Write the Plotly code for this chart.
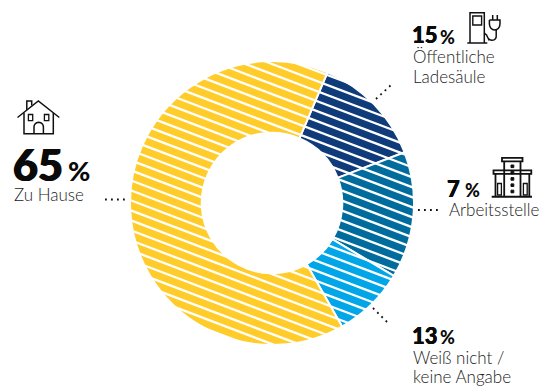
import math
import plotly.graph_objects as go

W, H = 545, 392

# Ring segments, clockwise from the start angle
categories = ["Öffentliche Ladesäule", "Arbeitsstelle", "Weiß nicht / keine Angabe", "Zu Hause"]
shares = [12.8, 14.4, 8.2, 64.6]
colors = ["#0F3B7A", "#006C9E", "#00A6E8", "#FFCC29"]

# Printed callout numbers
big_numbers = ["65", "15", "7", "13"]

CX, CY, R = 272, 203, 142


def px(x):
    return x / W


def py(y):
    return 1 - y / H


def path(points, close=False):
    d = "M " + " L ".join(f"{px(x):.5f},{py(y):.5f}" for x, y in points)
    return d + (" Z" if close else "")


fig = go.Figure(
    go.Pie(
        labels=categories,
        values=shares,
        sort=False,
        direction="clockwise",
        rotation=23,
        hole=0.495,
        textinfo="none",
        hoverinfo="skip",
        showlegend=False,
        marker=dict(colors=colors, line=dict(color="white", width=2)),
        domain=dict(x=[px(CX - R), px(CX + R)], y=[py(CY + R), py(CY - R)]),
    )
)

shapes = []

# White hatching over the ring, cut to the outer circle
SLOPE = 0.38
PERIOD = 10.0
PHASE = 1.0
STROKE = 2.3
n = int(2 * R * 1.1 / PERIOD) + 2
for k in range(-n, n + 1):
    c = PHASE + k * PERIOD  # vertical offset at the centre column
    a = 1 + SLOPE**2
    b = 2 * SLOPE * c
    disc = b * b - 4 * a * (c * c - (R + 2) ** 2)
    if disc <= 0:
        continue
    x1 = (-b - math.sqrt(disc)) / (2 * a)
    x2 = (-b + math.sqrt(disc)) / (2 * a)
    shapes.append(dict(
        type="path", xref="paper", yref="paper", layer="above",
        path=path([(CX + x1, CY + c + SLOPE * x1), (CX + x2, CY + c + SLOPE * x2)]),
        line=dict(color="white", width=STROKE),
    ))


def stroke(points, width=1.5, close=False, fill=None):
    shapes.append(dict(
        type="path", xref="paper", yref="paper", layer="above",
        path=path(points, close),
        line=dict(color="#111111", width=width),
        fillcolor=fill or "rgba(0,0,0,0)",
    ))


def box(x0, y0, x1, y1, width=1.5, fill=None):
    stroke([(x0, y0), (x1, y0), (x1, y1), (x0, y1)], width, True, fill)


def arc(cx, cy, rx, ry, a0, a1, steps=14):
    return [
        (cx + rx * math.cos(math.radians(a0 + (a1 - a0) * i / steps)),
         cy + ry * math.sin(math.radians(a0 + (a1 - a0) * i / steps)))
        for i in range(steps + 1)
    ]


# Dotted leader lines
leaders = [
    ((105, 199.5), (127, 199.5)),
    ((376, 99), (391, 85)),
    ((418, 210), (439, 210)),
    ((373, 308), (387, 322)),
]
for a, b in leaders:
    shapes.append(dict(
        type="path", xref="paper", yref="paper", layer="above",
        path=path([a, b]),
        line=dict(color="#111111", width=1.8, dash="1.8px,4.2px"),
    ))

# House icon
stroke([(17.5, 117.5), (38.3, 101), (59.3, 117.5)])
stroke([(24, 113), (24, 133.7), (53.3, 133.7), (53.3, 113)])
stroke([(26.8, 110), (26.8, 101), (31.7, 101), (31.7, 105.5)])
box(28.4, 114.5, 32.7, 120.7, 1.3)
box(44.4, 114.5, 48.8, 120.7, 1.3)
stroke([(34, 133.7)] + arc(38.7, 127, 4.7, 4.7, 180, 360) + [(43.4, 133.7)])

# Charging post icon
stroke([(470, 43), (470, 12.7), (484.3, 12.7), (484.3, 43)])
stroke([(467.3, 43), (487.3, 43)])
box(472.8, 16, 481.6, 25, 1.4)
stroke([(484.3, 33)] + [(486.5, 35), (488.5, 39)] + arc(492, 36.5, 4.2, 3.8, 145, 0, 8) + [(496.2, 30)])
stroke([(489.4, 20), (500, 20), (500, 24)] + arc(494.7, 24, 5.3, 6, 0, 180, 8) + [(489.4, 20)])
stroke([(492.7, 15), (492.7, 20)])
stroke([(497.3, 15), (497.3, 20)])

# Office building icon
box(502, 157.8, 522.5, 161.4, 1.8)
stroke([(504.2, 161.4), (504.2, 196.5)], 1.8)
stroke([(520.5, 161.4), (520.5, 196.5)], 1.8)
box(493.5, 170.3, 531.3, 173.8, 1.8)
stroke([(495.5, 173.8), (495.5, 196.5)], 1.8)
stroke([(529.3, 173.8), (529.3, 196.5)], 1.8)
stroke([(491.7, 196.7), (532, 196.7)], 2)
box(497.6, 183.5, 501.4, 195, 1.3)
box(523.4, 183.5, 527.2, 195, 1.3)
for wy in (165, 171.3, 177.6, 183.9, 190.2):
    box(511, wy, 513.8, wy + 2.6, 1, "#111111")

annotations = []


def text(x, baseline, s, size, weight=300, color="#222222", shadow=None):
    # Anchored by the box bottom; the offset puts the given y on the baseline
    font = dict(family="Lato", size=size, weight=weight, color=color)
    if shadow:
        font["shadow"] = shadow
    annotations.append(dict(
        x=px(x), y=py(baseline + size * 0.25), xref="paper", yref="paper",
        xanchor="left", yanchor="bottom", showarrow=False, text=s,
        align="left", borderpad=0, borderwidth=0, font=font,
    ))


def callout(x, baseline, number, size, unit_x, unit_size):
    heavy = f"{size * 0.016:.2f}px 0 0 #0A0A0A, -{size * 0.016:.2f}px 0 0 #0A0A0A"
    text(x, baseline, number, size, 900, "#0A0A0A", heavy)
    text(unit_x, baseline + 0.5, "%", unit_size, 900, "#0A0A0A")


callout(13, 179.5, big_numbers[0], 43, 68, 27)
text(14, 201, "Zu Hause", 17)

callout(412, 43, big_numbers[1], 22, 440, 18)
text(413, 63, "Öffentliche", 17)
text(413, 83, "Ladesäule", 17)

callout(447, 196, big_numbers[2], 22, 465, 18)
text(449, 216, "Arbeitsstelle", 17)

callout(412, 343, big_numbers[3], 22, 440, 18)
text(413, 364, "Weiß nicht /", 17)
text(413, 383, "keine Angabe", 17)

fig.update_layout(
    width=W, height=H,
    margin=dict(l=0, r=0, t=0, b=0),
    paper_bgcolor="white",
    plot_bgcolor="white",
    shapes=shapes,
    annotations=annotations,
)

fig.write_html("out.html", config=dict(displayModeBar=False))
